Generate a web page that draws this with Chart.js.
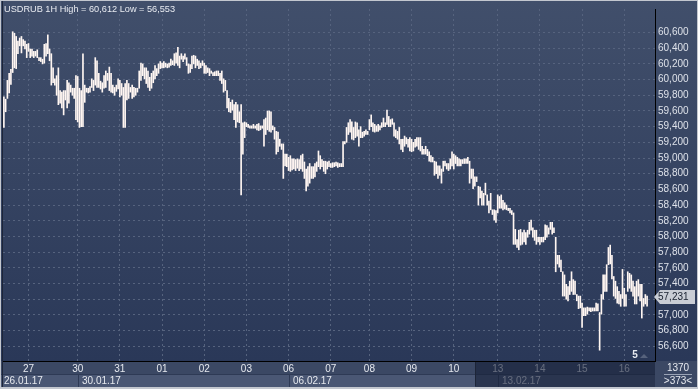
<!DOCTYPE html>
<html>
<head>
<meta charset="utf-8">
<script src="https://cdn.jsdelivr.net/npm/chart.js@4"></script>
<style>
  html, body { margin: 0; padding: 0; background: #c3c7cf; }
  #grafico { display: block; }
</style>
</head>
<body>
<canvas id="grafico" width="698" height="389"></canvas>
<script>
// Dias (uma etiqueta por dia) e quantas barras de 1 hora cada dia tem
const dayLabels = ["26", "27", "30", "31", "01", "02", "03", "06", "07", "08", "09", "10", "13", "14", "15", "16"];
const barsPerDay = [14, 28, 24, 24, 24, 24, 24, 24, 22, 24, 24, 25, 24, 24, 24, 14];
const weekLabels = ["26.01.17", "30.01.17", "06.02.17", "13.02.17"];
const weekFirstDay = [0, 2, 7, 12];
const priceTicks = [56.6, 56.8, 57.0, 57.2, 57.4, 57.6, 57.8, 58.0, 58.2, 58.4, 58.6, 58.8,
  59.0, 59.2, 59.4, 59.6, 59.8, 60.0, 60.2, 60.4, 60.6];
const lastPrice = 57.231;
const titulo = "USDRUB 1H High = 60,612 Low = 56,553";

// Máximas de cada barra
const highs = [
  59.78, 59.75, 59.99, 60.08, 60.13, 60.61, 60.59, 60.55, 60.49, 60.53, 60.55, 60.51, 60.49, 60.45, // 26
  60.46, 60.39, 60.39, 60.36, 60.36, 60.38, 60.28, 60.28, 60.26, 60.45, 60.46, 60.57, 60.39, 60.33,
  60.15, 60.01, 60.05, 60.15, 59.86, 59.84, 59.86, 59.86, 59.99, 59.96, 59.93, 59.89, 59.89, 60.05, // 27
  60.04, 59.89, 59.86, 60.33, 59.93, 59.89, 59.89, 59.91, 60.01, 59.99, 60.28, 60.24,
  60.08, 59.98, 59.96, 60.05, 60.11, 60.08, 60.16, 60.08, 59.93, 59.90, 59.93, 60.01, // 30
  59.99, 59.95, 59.90, 59.95, 59.99, 59.95, 59.90, 59.93, 59.90, 59.89, 59.89, 60.11,
  60.21, 60.20, 60.15, 60.15, 60.11, 60.03, 60.08, 60.11, 60.18, 60.14, 60.20, 60.23, // 31
  60.21, 60.23, 60.21, 60.20, 60.21, 60.26, 60.24, 60.33, 60.34, 60.41, 60.30, 60.33,
  60.30, 60.33, 60.28, 60.20, 60.19, 60.30, 60.31, 60.30, 60.26, 60.24, 60.21, 60.24, // 01
  60.21, 60.18, 60.15, 60.14, 60.11, 60.09, 60.10, 60.11, 60.11, 60.08, 60.11, 60.01,
  59.99, 59.86, 59.76, 59.71, 59.74, 59.68, 59.71, 59.68, 59.59, 59.68, 59.45, 59.46, // 02
  59.45, 59.43, 59.41, 59.41, 59.43, 59.41, 59.43, 59.44, 59.41, 59.41, 59.49, 59.51,
  59.60, 59.60, 59.59, 59.41, 59.39, 59.34, 59.33, 59.24, 59.18, 59.18, 59.05, 59.05, // 03
  59.01, 59.03, 58.99, 58.99, 58.98, 58.99, 58.98, 59.03, 59.05, 58.95, 58.86, 58.89,
  58.93, 58.89, 58.89, 58.93, 58.95, 59.09, 59.03, 58.98, 58.96, 58.96, 58.95, 58.96, // 06
  58.93, 58.94, 58.94, 58.95, 58.94, 58.93, 58.93, 59.21, 59.21, 59.39, 59.45,
  59.49, 59.46, 59.39, 59.46, 59.45, 59.36, 59.40, 59.33, 59.34, 59.36, 59.34, // 07
  59.49, 59.55, 59.45, 59.43, 59.41, 59.43, 59.41, 59.45, 59.51, 59.45, 59.61, 59.53,
  59.49, 59.50, 59.45, 59.36, 59.34, 59.39, 59.24, 59.24, 59.28, 59.26, 59.24, 59.26, // 08
  59.24, 59.20, 59.24, 59.26, 59.26, 59.26, 59.15, 59.11, 59.15, 59.11, 59.08, 59.03,
  59.01, 58.96, 58.95, 58.90, 58.90, 58.86, 58.96, 58.96, 58.93, 58.93, 58.99, 59.08, // 09
  59.05, 59.03, 59.01, 58.99, 58.98, 58.98, 58.99, 58.99, 59.01, 58.96, 58.86, 58.86, 58.76,
  58.76, 58.64, 58.63, 58.58, 58.55, 58.68, 58.53, 58.45, 58.55, 58.34, 58.34, 58.33, // 10
  58.53, 58.51, 58.53, 58.46, 58.43, 58.40, 58.36, 58.36, 58.33, 58.30, 58.09, 57.96,
  58.08, 58.09, 58.05, 58.08, 58.05, 58.08, 58.18, 58.21, 58.11, 58.08, 58.08, 57.99, // 13
  57.99, 57.99, 57.99, 58.15, 58.14, 58.11, 58.18, 58.18, 58.11, 57.99, 57.76, 57.76,
  57.70, 57.55, 57.51, 57.39, 57.36, 57.43, 57.55, 57.45, 57.43, 57.26, 57.24, 57.24, // 14
  57.15, 57.09, 57.09, 57.10, 57.09, 57.09, 57.09, 57.09, 57.15, 57.14, 57.03, 57.26,
  57.51, 57.51, 57.64, 57.86, 57.89, 57.76, 57.49, 57.43, 57.36, 57.30, 57.26, 57.58, // 15
  57.34, 57.26, 57.55, 57.53, 57.51, 57.43, 57.36, 57.43, 57.45, 57.39, 57.39, 57.21, 57.26, 57.24 // 16
];

// Mínimas de cada barra
const lows = [
  59.39, 59.59, 59.76, 59.83, 59.94, 60.09, 60.15, 60.14, 60.33, 60.43, 60.34, 60.43, 60.39, 60.28, // 26
  60.36, 60.28, 60.30, 60.28, 60.30, 60.28, 60.24, 60.23, 60.20, 60.21, 60.30, 60.33, 60.24, 59.93,
  59.96, 59.93, 59.80, 59.68, 59.70, 59.64, 59.55, 59.74, 59.64, 59.70, 59.84, 59.80, 59.76, 59.49, // 27
  59.46, 59.39, 59.40, 59.40, 59.71, 59.84, 59.83, 59.84, 59.90, 59.86, 59.93, 59.90,
  59.90, 59.88, 59.84, 59.89, 59.90, 59.99, 59.86, 59.84, 59.83, 59.80, 59.85, 59.88, // 30
  59.78, 59.80, 59.39, 59.39, 59.74, 59.76, 59.84, 59.76, 59.78, 59.80, 59.84, 59.89,
  59.99, 60.05, 60.01, 59.95, 59.90, 59.86, 59.89, 59.96, 60.01, 60.05, 60.08, 60.14, // 31
  60.15, 60.15, 60.16, 60.15, 60.16, 60.18, 60.19, 60.18, 60.21, 60.18, 60.15, 60.26,
  60.23, 60.26, 60.18, 60.08, 60.09, 60.14, 60.20, 60.15, 60.18, 60.14, 60.15, 60.18, // 01
  60.08, 60.08, 60.09, 60.05, 60.08, 60.05, 60.05, 60.05, 60.05, 59.99, 59.95, 59.84,
  59.86, 59.64, 59.59, 59.58, 59.61, 59.49, 59.39, 59.46, 59.45, 58.53, 59.05, 59.26, // 02
  59.40, 59.39, 59.38, 59.38, 59.38, 59.38, 59.36, 59.35, 59.36, 59.38, 59.15, 59.30,
  59.36, 59.34, 59.33, 59.36, 59.24, 59.05, 59.08, 59.15, 59.11, 58.74, 58.90, 58.89, // 03
  58.84, 58.83, 58.85, 58.86, 58.84, 58.87, 58.84, 58.86, 58.83, 58.74, 58.58, 58.64,
  58.68, 58.74, 58.74, 58.76, 58.83, 58.89, 58.86, 58.89, 58.83, 58.80, 58.86, 58.89, // 06
  58.88, 58.88, 58.89, 58.90, 58.88, 58.89, 58.89, 58.89, 59.18, 59.20, 59.30,
  59.33, 59.24, 59.23, 59.26, 59.28, 59.15, 59.26, 59.26, 59.28, 59.30, 59.30, // 07
  59.36, 59.40, 59.34, 59.33, 59.34, 59.34, 59.36, 59.39, 59.40, 59.40, 59.43, 59.40,
  59.40, 59.43, 59.28, 59.26, 59.24, 59.18, 59.11, 59.08, 59.15, 59.18, 59.14, 59.09, // 08
  59.08, 59.09, 59.14, 59.15, 59.11, 59.09, 59.05, 59.05, 59.05, 59.03, 58.96, 58.95,
  58.95, 58.78, 58.80, 58.74, 58.78, 58.68, 58.83, 58.90, 58.86, 58.84, 58.86, 58.90, // 09
  58.86, 58.93, 58.90, 58.90, 58.90, 58.93, 58.93, 58.93, 58.93, 58.68, 58.74, 58.61, 58.64,
  58.70, 58.40, 58.49, 58.40, 58.40, 58.53, 58.40, 58.30, 58.34, 58.28, 58.21, 58.18, // 10
  58.30, 58.36, 58.36, 58.34, 58.35, 58.34, 58.33, 58.30, 58.28, 57.90, 57.90, 57.86,
  57.83, 57.89, 57.90, 57.93, 57.90, 57.99, 58.03, 58.08, 57.99, 57.95, 57.90, 57.93, // 13
  57.90, 57.93, 57.93, 57.96, 57.99, 58.03, 58.09, 58.03, 58.05, 57.55, 57.65, 57.61,
  57.55, 57.24, 57.24, 57.20, 57.18, 57.26, 57.30, 57.26, 57.26, 57.18, 57.08, 57.09, // 14
  56.84, 56.99, 56.99, 57.01, 57.05, 57.04, 57.05, 57.05, 57.05, 57.05, 56.55, 57.01,
  57.20, 57.30, 57.30, 57.64, 57.65, 57.46, 57.24, 57.21, 57.15, 57.14, 57.11, 57.21, // 15
  57.11, 57.11, 57.30, 57.34, 57.30, 57.24, 57.14, 57.14, 57.24, 57.18, 56.96, 57.11, 57.14, 57.11 // 16
];

// slots vazios à direita do último candle
const emptySlots = 4;

// monta rótulos do eixo X (um por barra) e o índice da primeira barra de cada dia
const slotLabels = [];
const dayStart = [];
for (let d = 0; d < dayLabels.length; d++) {
  dayStart.push(slotLabels.length);
  for (let k = 0; k < barsPerDay[d]; k++) slotLabels.push(dayLabels[d]);
}
for (let k = 0; k < emptySlots; k++) slotLabels.push("");

const barras = [];
for (let i = 0; i < slotLabels.length; i++) {
  barras.push(i < highs.length ? [lows[i], highs[i]] : null);
}

function fmt(v) {
  return v.toFixed(3).replace(".", ",");
}

const FONTE = "Liberation Sans";

const moldura = {
  id: "moldura",
  beforeDraw(chart) {
    const ctx = chart.ctx;
    const a = chart.chartArea;
    ctx.save();
    ctx.fillStyle = "#c3c7cf";
    ctx.fillRect(0, 0, 698, 389);
    // fundo do gráfico e do painel de preços
    const g = ctx.createLinearGradient(0, 0, 0, a.bottom);
    g.addColorStop(0, "#414f6b");
    g.addColorStop(1, "#2a3858");
    ctx.fillStyle = g;
    ctx.fillRect(1, 1, 696, a.bottom - 1);
    // faixa inferior
    ctx.fillStyle = "#3b4864";
    ctx.fillRect(1, a.bottom, 696, 387 - a.bottom);
    ctx.fillStyle = "#4a5774";
    ctx.fillRect(1, 374, a.right - 1, 13);
    // separadores das semanas
    const xs = chart.scales.x;
    ctx.fillStyle = "#2e3a55";
    for (let w = 1; w < weekFirstDay.length; w++) {
      const x = Math.round(xs.getPixelForValue(dayStart[weekFirstDay[w]]));
      ctx.fillRect(x, 374, 1, 13);
    }
    ctx.fillRect(1, 374, a.right - 1, 1);
    // borda esquerda
    ctx.fillStyle = "#1d2538";
    ctx.fillRect(2, 1, 1, 386);
    ctx.restore();
  },
  afterDraw(chart) {
    const ctx = chart.ctx;
    const a = chart.chartArea;
    const xs = chart.scales.x;
    const ys = chart.scales.y;
    ctx.save();
    ctx.textBaseline = "middle";
    ctx.textAlign = "left";
    // título
    ctx.font = "9.2px '" + FONTE + "'";
    ctx.fillStyle = "#e8ebf1";
    ctx.fillText(titulo, 4, 9);
    // semanas
    ctx.font = "10px '" + FONTE + "'";
    ctx.fillStyle = "#e6e9ef";
    for (let w = 0; w < weekLabels.length; w++) {
      let x = w == 0 ? 4 : Math.round(xs.getPixelForValue(dayStart[weekFirstDay[w]])) + 4;
      ctx.fillText(weekLabels[w], x, 381);
    }
    // área sombreada à direita
    const xSombra = 475;
    ctx.fillStyle = "rgba(22, 32, 56, 0.62)";
    ctx.fillRect(xSombra, a.bottom + 1, a.right - xSombra, 387 - a.bottom - 1);
    ctx.fillStyle = "#1d2538";
    ctx.fillRect(xSombra, a.bottom + 1, 1, 24);
    // etiqueta do último preço
    const yp = Math.round(ys.getPixelForValue(lastPrice));
    ctx.fillStyle = "#c9cdd5";
    ctx.beginPath();
    ctx.moveTo(a.right - 1, yp);
    ctx.lineTo(a.right + 5, yp - 7);
    ctx.lineTo(695, yp - 7);
    ctx.lineTo(695, yp + 7);
    ctx.lineTo(a.right + 5, yp + 7);
    ctx.closePath();
    ctx.fill();
    ctx.fillStyle = "#18202f";
    ctx.fillText(fmt(lastPrice), a.right + 3, yp + 0.5);
    // caixa inferior direita
    ctx.fillStyle = "#e6e9ef";
    ctx.textAlign = "center";
    ctx.fillText("1370", 678, 368);
    ctx.fillText(">373<", 678, 381);
    ctx.fillStyle = "#9aa3b5";
    ctx.fillRect(664, 374, 28, 1);
    // marcador "5"
    ctx.fillStyle = "#e6e9ef";
    ctx.font = "bold 10px '" + FONTE + "'";
    ctx.fillText("5", 635, 355);
    ctx.fillStyle = "#56627c";
    ctx.beginPath();
    ctx.moveTo(640, 358);
    ctx.lineTo(644, 354);
    ctx.lineTo(648, 358);
    ctx.closePath();
    ctx.fill();
    ctx.restore();
  },
};

new Chart(document.getElementById("grafico"), {
  type: "bar",
  data: {
    labels: slotLabels,
    datasets: [
      {
        label: "USDRUB",
        data: barras,
        backgroundColor: "#fff6f2",
        borderWidth: 0,
        barThickness: 1,
      },
    ],
  },
  options: {
    responsive: false,
    animation: false,
    devicePixelRatio: 1,
    layout: { padding: { left: 3, top: 2, right: 0, bottom: 0 } },
    plugins: {
      legend: { display: false },
      title: { display: false },
      tooltip: { enabled: false },
    },
    scales: {
      x: {
        type: "category",
        offset: true,
        grid: { offset: false, color: "#56637e", drawTicks: false },
        border: { display: true, color: "#000000", width: 1, dash: [2, 3] },
        ticks: {
          autoSkip: false,
          maxRotation: 0,
          padding: 2,
          color: "#e6e9ef",
          font: { family: FONTE, size: 10 },
          callback: function (value) {
            return this.getLabelForValue(value);
          },
        },
        afterBuildTicks: function (scale) {
          scale.ticks = dayStart.slice(1).map(function (i) { return { value: i }; });
        },
        afterFit: function (scale) {
          scale.height = 28;
        },
      },
      y: {
        position: "right",
        min: 56.4125,
        max: 60.9,
        grid: { color: "#56637e", drawTicks: false },
        border: { display: true, color: "#000000", width: 1, dash: [2, 3] },
        ticks: {
          padding: 3,
          color: "#dde1e9",
          font: { family: FONTE, size: 10 },
          callback: function (value) {
            return fmt(value);
          },
        },
        afterBuildTicks: function (scale) {
          scale.ticks = priceTicks.map(function (v) { return { value: v }; });
        },
        afterFit: function (scale) {
          scale.width = 43;
        },
      },
    },
  },
  plugins: [moldura],
});
</script>
</body>
</html>
